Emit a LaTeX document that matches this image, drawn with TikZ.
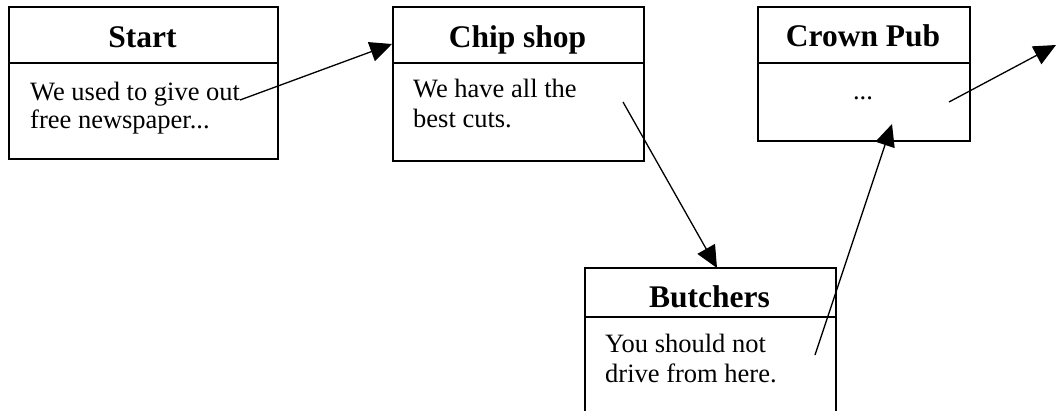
\documentclass[tikz,border=0pt]{standalone}
\usepackage{fontspec}
\setmainfont{Liberation Serif}
\usetikzlibrary{arrows.meta}
\tikzset{
  box/.style={draw, line width=1.5pt, inner sep=0pt, anchor=north west},
  divider/.style={line width=1.5pt},
  title/.style={font=\fontsize{31.5}{36}\selectfont\bfseries, inner sep=0pt, anchor=base},
  bodyline/.style={font=\fontsize{26.5}{30}\selectfont, inner sep=0pt, anchor=base west},
  link/.style={line width=1.3pt, -{Triangle[length=22pt,width=20pt]}}
}
\begin{document}
\begin{tikzpicture}[x=1pt,y=-1pt]
\clip (0,0) rectangle (1056,410);
\fill[white] (0,0) rectangle (1056,410);

% Start
\node[box, minimum width=269pt, minimum height=152pt] (start) at (8,6) {};
\draw[divider] (start.west |- 0,63) -- (start.east |- 0,63);
\node[title] (startT) at (142.5,47) {Start};
\node[bodyline] (startB1) at (30,100) {We used to give out};
\node[bodyline] (startB2) at (30,128) {free newspaper...};

% Chip shop
\node[box, minimum width=251pt, minimum height=154pt] (chip) at (392,6) {};
\draw[divider] (chip.west |- 0,63) -- (chip.east |- 0,63);
\node[title] (chipT) at (517.5,47) {Chip shop};
\node[bodyline] (chipB1) at (413,97) {We have all the};
\node[bodyline] (chipB2) at (413,127) {best cuts.};

% Crown Pub
\node[box, minimum width=212pt, minimum height=134pt] (crown) at (757,6) {};
\draw[divider] (crown.west |- 0,63) -- (crown.east |- 0,63);
\node[title] (crownT) at (863,46) {Crown Pub};
\node[bodyline, anchor=base] (crownB) at (863,99) {...};

% Butchers
\node[box, minimum width=251pt, minimum height=160pt] (butch) at (584,267) {};
\draw[divider] (butch.west |- 0,317) -- (butch.east |- 0,317);
\node[title] (butchT) at (709.5,307) {Butchers};
\node[bodyline] (butchB1) at (605,352) {You should not};
\node[bodyline] (butchB2) at (605,382) {drive from here.};

% connector end points
\coordinate (p1s) at (240,100);
\coordinate (p1e) at (chip.west |- 0,44);
\coordinate (p2s) at (623,102);
\coordinate (p2e) at (717,268);
\coordinate (p3s) at (815,355);
\coordinate (p3e) at (892,124);
\coordinate (p4s) at (949,102);
\coordinate (p4e) at (1056,45);

\draw[link] (p1s) -- (p1e);
\draw[link] (p2s) -- (p2e);
\draw[link] (p3s) -- (p3e);
\draw[link] (p4s) -- (p4e);
\end{tikzpicture}
\end{document}
